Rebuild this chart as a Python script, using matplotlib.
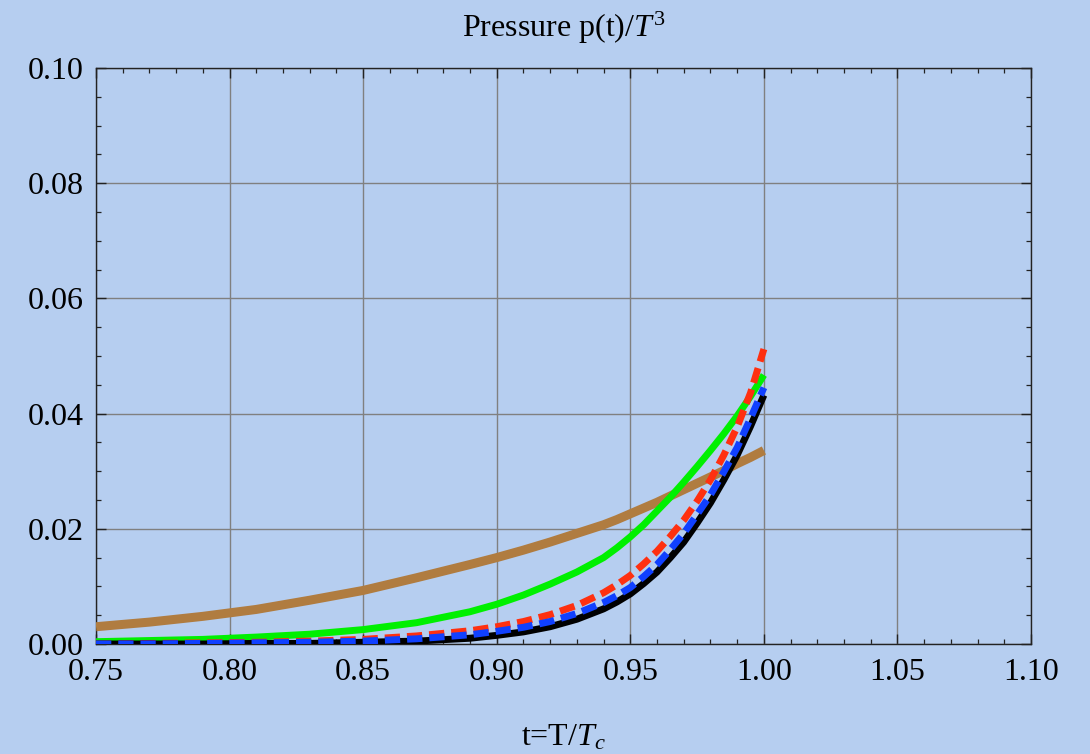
import numpy as np
import matplotlib
matplotlib.use("Agg")
import matplotlib.pyplot as plt
from matplotlib.ticker import MultipleLocator

plt.rcParams['font.family'] = ['Liberation Serif', 'DejaVu Serif']
plt.rcParams['mathtext.fontset'] = 'custom'
plt.rcParams['mathtext.rm'] = 'Liberation Serif'
plt.rcParams['mathtext.it'] = 'Liberation Serif:italic'

# reduced temperature t = T/Tc
t = [0.75, 0.77, 0.79, 0.81, 0.83, 0.85, 0.87, 0.89, 0.90, 0.91, 0.92, 0.93,
     0.94, 0.945, 0.95, 0.955, 0.96, 0.965, 0.97, 0.975, 0.98, 0.985, 0.99,
     0.995, 1.00]

# p(t)/T^3 for each curve
p_brown = [0.0030, 0.0038, 0.0048, 0.0060, 0.0076, 0.0093, 0.0115, 0.0138,
           0.0150, 0.0163, 0.0177, 0.0192, 0.0207, 0.0216, 0.0226, 0.0236,
           0.0246, 0.0257, 0.0268, 0.0279, 0.0290, 0.0301, 0.0313, 0.0324,
           0.0336]
p_green = [0.0004, 0.0006, 0.0008, 0.0012, 0.0017, 0.0025, 0.0037, 0.0056,
           0.0069, 0.0085, 0.0104, 0.0125, 0.0150, 0.0167, 0.0186, 0.0207,
           0.0231, 0.0255, 0.0281, 0.0308, 0.0336, 0.0365, 0.0396, 0.0430,
           0.0467]
p_red = [0.0000, 0.0001, 0.0002, 0.0003, 0.0005, 0.0008, 0.0014, 0.0023,
         0.0030, 0.0039, 0.0051, 0.0067, 0.0089, 0.0103, 0.0119, 0.0139,
         0.0161, 0.0187, 0.0215, 0.0248, 0.0285, 0.0328, 0.0377, 0.0436,
         0.0512]
p_black = [0.0000, 0.0000, 0.0000, 0.0001, 0.0001, 0.0003, 0.0005, 0.0010,
           0.0015, 0.0021, 0.0030, 0.0043, 0.0061, 0.0073, 0.0087, 0.0105,
           0.0125, 0.0150, 0.0177, 0.0210, 0.0245, 0.0285, 0.0328, 0.0378,
           0.0432]
p_blue = [0.0000, 0.0000, 0.0001, 0.0002, 0.0003, 0.0005, 0.0009, 0.0016,
          0.0022, 0.0029, 0.0039, 0.0053, 0.0072, 0.0084, 0.0098, 0.0117,
          0.0138, 0.0164, 0.0192, 0.0225, 0.0259, 0.0299, 0.0341, 0.0392,
          0.0445]

bg = '#b6cef0'
fig = plt.figure(figsize=(10.9, 7.54), dpi=100, facecolor=bg)
ax = fig.add_axes([0.0881, 0.1459, 0.8578, 0.7639])
ax.set_facecolor(bg)

ax.plot(t, p_brown, color='#b07c40', lw=6.5, solid_capstyle='butt',
        solid_joinstyle='round', zorder=3)
ax.plot(t, p_green, color='#00f000', lw=5.0, solid_capstyle='butt',
        solid_joinstyle='round', zorder=4)
ax.plot(t, p_red, color='#ff3010', lw=5.0, ls=(0, (2.2, 1.0)),
        dash_capstyle='butt', zorder=5)
ax.plot(t, p_black, color='black', lw=5.0, solid_capstyle='butt',
        solid_joinstyle='round', zorder=6)
ax.plot(t, p_blue, color='#1040ff', lw=5.0, ls=(0, (2.2, 1.0)),
        dash_capstyle='butt', zorder=7)

ax.set_xlim(0.75, 1.10)
ax.set_ylim(0.0, 0.10)
ax.xaxis.set_major_locator(MultipleLocator(0.05))
ax.xaxis.set_minor_locator(MultipleLocator(0.01))
ax.yaxis.set_major_locator(MultipleLocator(0.02))
ax.yaxis.set_minor_locator(MultipleLocator(0.005))
ax.xaxis.set_major_formatter(plt.FormatStrFormatter('%.2f'))
ax.yaxis.set_major_formatter(plt.FormatStrFormatter('%.2f'))

ax.grid(True, which='major', color='#808080', lw=1.0, zorder=1)
ax.tick_params(which='both', direction='in', top=True, right=True,
               colors='#222222', labelcolor='black', labelsize=23)
ax.tick_params(which='major', length=7, width=1.0)
ax.tick_params(which='minor', length=3.6, width=0.9)
ax.tick_params(axis='x', pad=10)
ax.tick_params(axis='y', pad=9)
for s in ax.spines.values():
    s.set_color('#222222')
    s.set_linewidth(1.0)

ax.set_title(r'Pressure p(t)/$T^3$', fontsize=23, pad=22)
ax.set_xlabel(r't=T/$T_c$', fontsize=23, labelpad=26)

fig.savefig('out.png', dpi=100, facecolor=bg)
